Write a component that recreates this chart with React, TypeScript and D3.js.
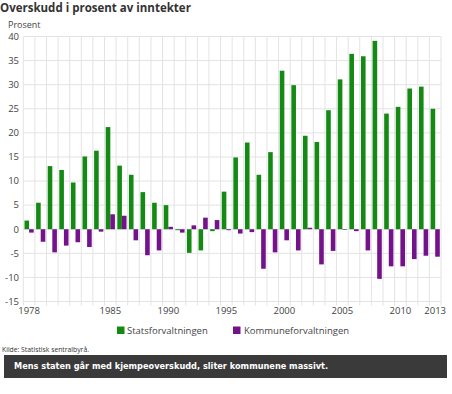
import React from "react";
import * as d3 from "d3";

const years = d3.range(1978, 2014);
const stats = [1.8, 5.5, 13.1, 12.3, 9.7, 15.1, 16.3, 21.2, 13.2, 11.3, 7.7, 5.5, 5.0, -0.2, -4.9, -4.4, -0.4, 7.8, 14.9, 18.0, 11.3, 16.0, 32.9, 29.9, 19.4, 18.1, 24.7, 31.1, 36.4, 35.9, 39.1, 24.0, 25.4, 29.2, 29.6, 25.0];
const kommune = [-0.7, -2.6, -4.8, -3.4, -2.7, -3.7, -0.5, 3.1, 2.8, -2.3, -5.4, -4.4, 0.5, -0.7, 0.8, 2.4, 1.9, -0.2, -0.9, -0.6, -8.2, -4.8, -2.3, -4.4, 0.3, -7.3, -4.5, -0.1, -0.4, -4.4, -10.3, -7.7, -7.7, -6.2, -5.5, -5.7];
const yTicks = [-15, -10, -5, 0, 5, 10, 15, 20, 25, 30, 35, 40];
const xLabels = [1978, 1985, 1990, 1995, 2000, 2005, 2010, 2013];
const seriesNames = ["Statsforvaltningen", "Kommuneforvaltningen"];
const colors = ["#148a14", "#74128c"];

export default function App() {
  const W = 452, H = 394;
  const left = 23.3, right = 441, top = 36.5, bottom = 301.5;
  const x = d3.scaleBand<number>().domain(years).range([left, right]).padding(0);
  const bw = x.bandwidth();
  const x1 = d3.scaleBand<number>().domain([0, 1]).range([1.2, bw - 1.2]).padding(0);
  const y = d3.scaleLinear().domain([-15, 40]).range([bottom, top]);
  const font = "'Open Sans', sans-serif";
  const data = [stats, kommune];
  const boundaries = years.map((yr) => x(yr) as number).concat([right]);

  return (
    <svg width={W} height={H} style={{ position: "absolute", left: 0, top: 0 }} fontFamily={font}>
      <rect width={W} height={H} fill="#fff" />
      <text x={0} y={11.5} fontSize={11.5} fontWeight={700} fill="#333">Overskudd i prosent av inntekter</text>
      <text x={8} y={27.5} fontSize={9} fill="#444">Prosent</text>
      {yTicks.map((t) => (
        <g key={t}>
          <line x1={left} x2={right} y1={y(t)} y2={y(t)} stroke="#e3e3e3" strokeWidth={1} />
          <text x={19} y={y(t)} dy="0.35em" textAnchor="end" fontSize={9.5} fill="#444">{t}</text>
        </g>
      ))}
      {boundaries.map((bx, i) => (
        <line key={i} x1={bx} x2={bx} y1={top} y2={bottom + 4} stroke="#e3e3e3" strokeWidth={1} />
      ))}
      {data.map((series, si) =>
        series.map((v, i) => (
          <rect
            key={si + "-" + i}
            x={(x(years[i]) as number) + (x1(si) as number)}
            y={Math.min(y(v), y(0))}
            width={x1.bandwidth()}
            height={Math.max(Math.abs(y(v) - y(0)), 0.6)}
            fill={colors[si]}
          />
        ))
      )}
      {xLabels.map((yr) => (
        <text key={yr} x={(x(yr) as number) + bw / 2} y={313.5} textAnchor="middle" fontSize={9.5} fill="#444">{yr}</text>
      ))}
      <rect x={117} y={326.5} width={7.5} height={7.5} fill={colors[0]} />
      <text x={127} y={333.5} fontSize={9.5} fill="#444">{seriesNames[0]}</text>
      <rect x={233} y={326.5} width={7.5} height={7.5} fill={colors[1]} />
      <text x={244} y={333.5} fontSize={9.5} fill="#444">{seriesNames[1]}</text>
      <text x={2} y={352} fontSize={6.8} fill="#333">Kilde: Statistisk sentralbyrå.</text>
      <rect x={4} y={355} width={443} height={23} fill="#3a3a3a" />
      <text x={14} y={368.5} fontSize={8.2} fontWeight={700} fill="#fff" fontFamily="'DejaVu Sans', sans-serif">Mens staten går med kjempeoverskudd, sliter kommunene massivt.</text>
    </svg>
  );
}
